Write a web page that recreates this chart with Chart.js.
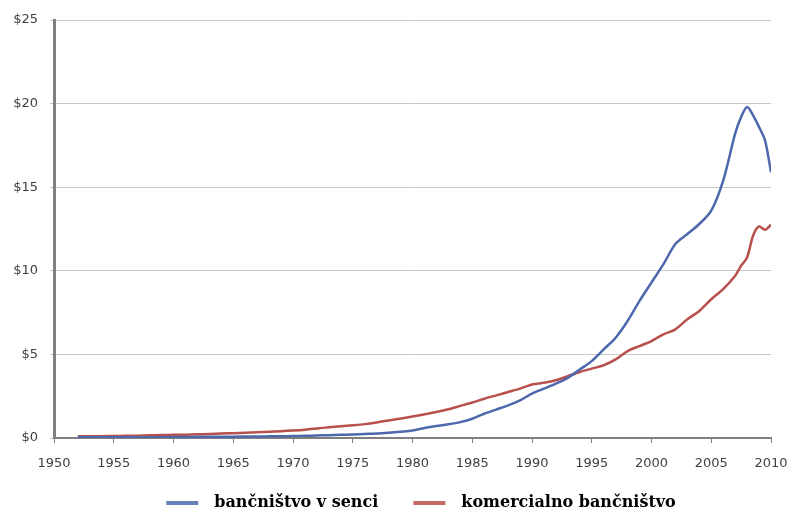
<!DOCTYPE html>
<html>
<head>
<meta charset="utf-8">
<script src="https://cdn.jsdelivr.net/npm/chart.js@4.4.0/dist/chart.umd.min.js"></script>
<style>
body{margin:0;background:#fff;}
#wrap{width:794px;height:512px;}
</style>
</head>
<body>
<div id="wrap"><canvas id="bankChart" width="794" height="512"></canvas></div>
<script>
//data (trillions of dollars)
let years = [1952,1953,1954,1955,1956,1957,1958,1959,1960,1961,1962,1963,1964,1965,1966,1967,1968,1969,1970,1971,1972,1973,1974,1975,1976,1977,1978,1979,1980,1981,1982,1983,1984,1985,1986,1987,1988,1989,1990,1991,1992,1993,1994,1995,1996,1997,1998,1999,2000,2001,2002,2003,2004,2005,2006,2007,2007.5,2008,2008.5,2009,2009.5,2010];

let shadowBanking = [0.05,0.05,0.05,0.05,0.05,0.05,0.05,0.05,0.06,0.06,0.07,0.07,0.08,0.08,0.09,0.09,0.1,0.1,0.12,0.13,0.15,0.17,0.19,0.21,0.24,0.27,0.32,0.38,0.45,0.6,0.72,0.82,0.95,1.15,1.45,1.7,1.95,2.25,2.65,2.95,3.25,3.6,4.1,4.6,5.3,6.0,7.0,8.2,9.3,10.4,11.6,12.2,12.8,13.6,15.4,18.2,19.2,19.8,19.3,18.6,17.8,15.9];

let commercialBanking = [0.1,0.1,0.11,0.12,0.13,0.14,0.16,0.18,0.19,0.2,0.22,0.24,0.27,0.29,0.31,0.34,0.37,0.41,0.45,0.5,0.57,0.64,0.7,0.76,0.83,0.93,1.05,1.17,1.28,1.42,1.55,1.72,1.92,2.12,2.35,2.55,2.75,2.95,3.2,3.3,3.45,3.7,3.95,4.15,4.35,4.7,5.2,5.5,5.8,6.2,6.5,7.1,7.6,8.3,8.9,9.7,10.3,10.8,12.1,12.65,12.45,12.75];

let seriesNames = ["bančništvo v senci","komercialno bančništvo"];
let seriesColors = ["#4e68ad","#b8504c"];

let ctx = document.getElementById("bankChart").getContext("2d");

//turn year + value arrays into points
function toPoints(vals){
    let pts = [];
    for(let i in years){
        pts.push({x: years[i], y: vals[i]});
    }
    return pts;
}

let tickFont = {family: "'DejaVu Sans', Verdana, sans-serif", size: 13};

//legend drawn by hand so the gaps match the original
let bottomLegend = {
    id: "bottomLegend",
    afterDraw(c){
        let g = c.ctx;
        let sets = c.data.datasets;
        g.save();
        g.font = "bold 16px 'DejaVu Serif', 'Times New Roman', serif";
        g.textBaseline = "middle";
        let total = 0;
        for(let i in sets){
            total += 32 + 16 + g.measureText(sets[i].label).width;
            if(i < sets.length - 1) total += 35;
        }
        let x = 421 - total / 2;
        let y = 503;
        for(let i in sets){
            g.strokeStyle = sets[i].borderColor;
            g.globalAlpha = 0.85;
            g.lineWidth = 4;
            g.beginPath();
            g.moveTo(x, y);
            g.lineTo(x + 32, y);
            g.stroke();
            g.globalAlpha = 1;
            x += 48;
            g.fillStyle = "#000";
            g.fillText(sets[i].label, x, y);
            x += g.measureText(sets[i].label).width + 35;
        }
        g.restore();
    }
};

let chart = new Chart(ctx,{
    type: "line",
    data: {
        datasets: [{
            label: seriesNames[0],
            data: toPoints(shadowBanking),
            borderColor: seriesColors[0],
            backgroundColor: seriesColors[0],
            borderWidth: 2.5,
            pointRadius: 0,
            tension: 0.3
        },{
            label: seriesNames[1],
            data: toPoints(commercialBanking),
            borderColor: seriesColors[1],
            backgroundColor: seriesColors[1],
            borderWidth: 2.5,
            pointRadius: 0,
            tension: 0.3
        }]
    },
    options: {
        responsive: false,
        animation: false,
        layout: {padding: {top: 20, right: 23, left: 0, bottom: 0}},
        plugins: {
            tooltip: {enabled: false},
            legend: {display: false}
        },
        scales: {
            x: {
                type: "linear",
                min: 1950,
                max: 2010,
                afterFit: function(scale){
                    scale.height = 74;
                    scale.paddingLeft = 0;
                    scale.paddingRight = 0;
                },
                ticks: {stepSize: 5, padding: 13, color: "#404040", font: tickFont, callback: v => String(v)},
                grid: {drawOnChartArea: false, drawTicks: true, tickLength: 5, color: "#808080"},
                border: {color: "#808080", width: 2}
            },
            y: {
                min: 0,
                max: 25,
                afterFit: function(scale){ scale.width = 54; },
                ticks: {stepSize: 5, padding: 12, color: "#404040", font: tickFont, callback: v => "$" + v},
                grid: {color: "#c8c8c8", lineWidth: 1, tickLength: 4},
                border: {color: "#808080", width: 3}
            }
        }
    },
    plugins: [bottomLegend]
});
</script>
</body>
</html>
